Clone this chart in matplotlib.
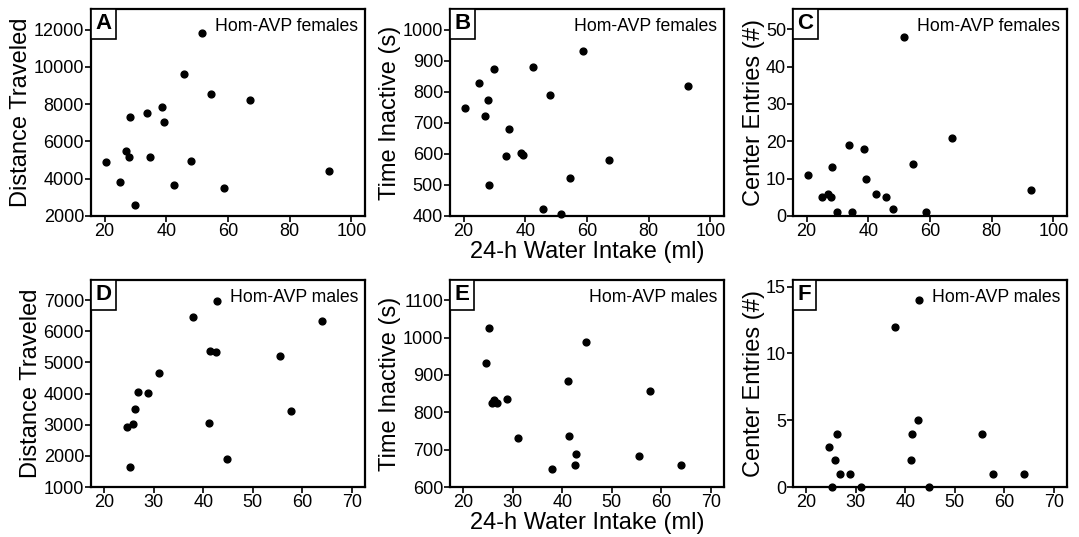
import matplotlib.pyplot as plt

plt.rcParams['font.family'] = ['Liberation Sans', 'DejaVu Sans']

# 24-h water intake (ml), shared by the three panels of each sex
female_water = [20.4, 25.0, 27.1, 27.8, 28.3, 30.0, 33.9, 34.6, 38.5, 39.3,
                42.6, 45.7, 47.9, 51.7, 54.4, 58.8, 67.0, 92.6]
female_distance = [4890, 3840, 5460, 5160, 7290, 2570, 7500, 5180, 7840, 7050,
                   3680, 9620, 4960, 11820, 8550, 3480, 8230, 4390]
female_inactive = [748, 830, 722, 775, 501, 874, 592, 681, 602, 597,
                   881, 424, 790, 405, 523, 932, 581, 820]
female_entries = [11, 5, 6, 5, 13, 1, 19, 1, 18, 10, 6, 5, 2, 48, 14, 1, 21, 7]

male_water = [24.5, 25.1, 25.8, 26.2, 26.9, 28.8, 31.0, 38.0, 41.2, 41.4,
              42.6, 42.8, 44.8, 55.5, 57.8, 64.0]
male_distance = [2940, 1650, 3030, 3490, 4050, 4030, 4660, 6450, 3040, 5380,
                 5340, 6960, 1900, 5200, 3440, 6340]
male_inactive = [933, 1025, 826, 832, 825, 835, 730, 649, 884, 737,
                 659, 688, 988, 683, 857, 658]
male_entries = [3, 0, 2, 4, 1, 1, 0, 12, 2, 4, 5, 14, 0, 4, 1, 1]

panels = [
    ('A', female_water, female_distance, 'Distance Traveled', 'Hom-AVP females',
     (15.6, 104.4), [20, 40, 60, 80, 100], (2000, 13100), range(2000, 12001, 2000)),
    ('B', female_water, female_inactive, 'Time Inactive (s)', 'Hom-AVP females',
     (15.6, 104.4), [20, 40, 60, 80, 100], (400, 1067), range(400, 1001, 100)),
    ('C', female_water, female_entries, 'Center Entries (#)', 'Hom-AVP females',
     (15.6, 104.4), [20, 40, 60, 80, 100], (0, 55.4), range(0, 51, 10)),
    ('D', male_water, male_distance, 'Distance Traveled', 'Hom-AVP males',
     (17.3, 72.7), [20, 30, 40, 50, 60, 70], (1000, 7650), range(1000, 7001, 1000)),
    ('E', male_water, male_inactive, 'Time Inactive (s)', 'Hom-AVP males',
     (17.3, 72.7), [20, 30, 40, 50, 60, 70], (600, 1154), range(600, 1101, 100)),
    ('F', male_water, male_entries, 'Center Entries (#)', 'Hom-AVP males',
     (17.3, 72.7), [20, 30, 40, 50, 60, 70], (0, 15.5), range(0, 16, 5)),
]

W, H = 1079, 537
fig = plt.figure(figsize=(W / 100, H / 100), dpi=100)

lefts = [91, 450, 793]
tops = [9, 280]
aw, ah = 274, 207

for i, (letter, x, y, ylab, note, xl, xt, yl, yt) in enumerate(panels):
    row, col = divmod(i, 3)
    ax = fig.add_axes([lefts[col] / W, (H - tops[row] - ah) / H, aw / W, ah / H])
    ax.scatter(x, y, s=24, color='black', zorder=3, clip_on=False)
    ax.set_xlim(*xl)
    ax.set_ylim(*yl)
    ax.set_xticks(xt)
    ax.set_yticks(list(yt))
    for sp in ax.spines.values():
        sp.set_linewidth(1.6)
    ax.tick_params(direction='out', length=4, width=1.2, labelsize=13, pad=1)
    ax.set_ylabel(ylab, fontsize=17, labelpad=1)
    if col == 1:
        ax.set_xlabel('24-h Water Intake (ml)', fontsize=17, labelpad=1)
    ax.text(0.975, 0.955, note, transform=ax.transAxes, ha='right', va='top',
            fontsize=12.7)
    ax.annotate(letter, xy=(0, 1), xycoords='axes fraction',
                xytext=(3.2, -3.2), textcoords='offset points',
                ha='left', va='top', fontsize=16, fontweight='bold',
                bbox=dict(boxstyle='square,pad=0.2', facecolor='white',
                          edgecolor='black', linewidth=1.2))

fig.savefig('out.png', dpi=100)
